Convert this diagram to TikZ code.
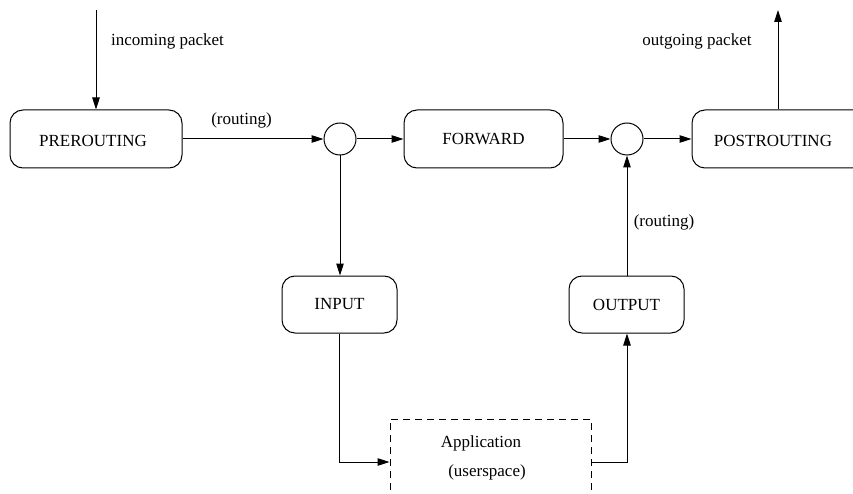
\documentclass[tikz,border=0pt]{standalone}
\usepackage{fontspec}
\setmainfont{Liberation Serif}
\usetikzlibrary{arrows.meta}
\begin{document}
\begin{tikzpicture}[x=1pt,y=-1pt,
  font=\fontsize{17}{20}\selectfont,
  line width=1pt,
  chain/.style={draw, rounded corners=13pt, inner sep=0pt},
  hook/.style={draw, circle, minimum size=32pt, inner sep=0pt},
  userbox/.style={draw, dashed, dash pattern=on 7pt off 5pt, inner sep=0pt},
  flow/.style={-{Triangle[length=12pt,width=7.5pt]}},
  tag/.style={inner sep=0pt}]
\useasboundingbox (0,0) rectangle (853,494);
\clip (0,0) rectangle (853,494);

% netfilter chains
\node[chain, minimum width=172pt, minimum height=58pt] (pre) at (96,139) {};
\node at (93,141) {PREROUTING};
\node[chain, minimum width=159pt, minimum height=58pt] (fwd) at (483.5,139) {FORWARD};
\node[chain, minimum width=190pt, minimum height=58pt] (post) at (787,139) {};
\node at (773,141) {POSTROUTING};
\node[chain, minimum width=115pt, minimum height=57pt] (in) at (339.5,304.5) {INPUT};
\node[chain, minimum width=115pt, minimum height=57pt] (out) at (626.5,304.5) {OUTPUT};

% routing decisions
\node[hook] (c1) at (340,139) {};
\node[hook] (c2) at (627,139) {};

% local process
\node[userbox, minimum width=201pt, minimum height=86pt] (app) at (490.5,462) {};
\node[tag] at (481,443) {Application};
\node[tag] at (487,472) {(userspace)};

% free ends of the packet path
\coordinate (src) at (96,10);
\coordinate (dst) at (778,10);

% labels
\node[tag] at (167.5,41) {incoming packet};
\node[tag] at (697,41) {outgoing packet};
\node[tag] at (241.5,120) {(routing)};
\node[tag] at (664,222) {(routing)};

% packet flow
\draw[flow] (src) -- (pre.north);
\draw[flow] (pre.east) -- (c1.west);
\draw[flow] (c1.east) -- (fwd.west);
\draw[flow] (fwd.east) -- (c2.west);
\draw[flow] (c2.east) -- (post.west);
\draw[flow] (post.north -| dst) -- (dst);
\draw[flow] (c1.south) -- (c1.south |- in.north);
\draw[flow] (in.south) |- (app.west);
\draw[flow] (app.east) -| (out.south -| c2);
\draw[flow] (out.north -| c2) -- (c2.south);
\end{tikzpicture}
\end{document}
